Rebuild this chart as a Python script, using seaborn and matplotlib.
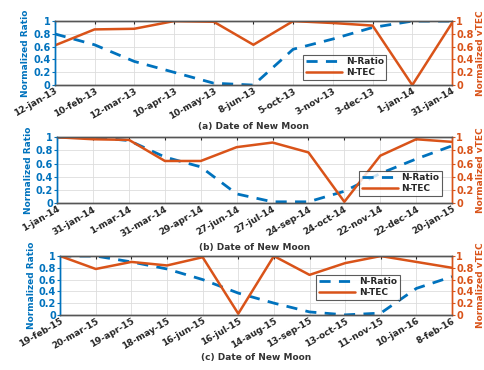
import matplotlib
matplotlib.use("Agg")
import matplotlib.pyplot as plt
import seaborn as sns
import pandas as pd
from matplotlib.lines import Line2D
from matplotlib.ticker import FuncFormatter

sns.set_style("white")
plt.rcParams['font.family'] = ['DejaVu Sans']

dates_a = ["12-jan-13", "10-feb-13", "12-mar-13", "10-apr-13", "10-may-13", "8-jun-13",
           "5-oct-13", "3-nov-13", "3-dec-13", "1-jan-14", "31-jan-14"]
ratio_a = [0.80, 0.63, 0.37, 0.20, 0.03, 0.0, 0.56, 0.72, 0.90, 1.0, 1.0]
tec_a = [0.62, 0.87, 0.88, 1.0, 0.99, 0.63, 1.0, 0.97, 0.93, 0.0, 0.97]

dates_b = ["1-jan-14", "31-jan-14", "1-mar-14", "31-mar-14", "29-apr-14", "27-jun-14",
           "27-jul-14", "24-sep-14", "24-oct-14", "22-nov-14", "22-dec-14", "20-jan-15"]
ratio_b = [1.0, 1.0, 0.95, 0.70, 0.55, 0.14, 0.02, 0.02, 0.18, 0.45, 0.67, 0.87]
tec_b = [1.0, 0.97, 0.96, 0.64, 0.64, 0.85, 0.92, 0.77, 0.02, 0.72, 0.97, 0.93]

dates_c = ["19-feb-15", "20-mar-15", "19-apr-15", "18-may-15", "16-jun-15", "16-jul-15",
           "14-aug-15", "13-sep-15", "13-oct-15", "11-nov-15", "10-jan-16", "8-feb-16"]
ratio_c = [1.0, 1.0, 0.90, 0.78, 0.60, 0.37, 0.20, 0.05, 0.0, 0.03, 0.45, 0.65]
tec_c = [1.0, 0.78, 0.90, 0.84, 0.98, 0.02, 1.0, 0.68, 0.88, 1.0, 0.90, 0.80]

panels = [
    ("(a) Date of New Moon", dates_a, ratio_a, tec_a),
    ("(b) Date of New Moon", dates_b, ratio_b, tec_b),
    ("(c) Date of New Moon", dates_c, ratio_c, tec_c),
]

BLUE = "#0072BD"
ORANGE = "#D95319"
DARK = "#262626"

fig = plt.figure(figsize=(4.85, 3.7), dpi=100)
rects = [
    [0.113, 0.770, 0.819, 0.173],
    [0.118, 0.451, 0.814, 0.178],
    [0.124, 0.149, 0.808, 0.159],
]
legend_pos = [(0.73, 0.28), (0.87, 0.30), (0.76, 0.47)]
label_y = [-0.64, -0.68, -0.73]

fmt = FuncFormatter(lambda v, p: f"{v:g}")

for i, (xlabel, dates, ratio, tec) in enumerate(panels):
    ax = fig.add_axes(rects[i])
    df = pd.DataFrame({"idx": range(len(dates)), "ratio": ratio, "tec": tec})
    sns.lineplot(data=df, x="idx", y="ratio", ax=ax, color=BLUE, lw=2.0,
                 linestyle=(0, (4, 3)))
    ax2 = ax.twinx()
    sns.lineplot(data=df, x="idx", y="tec", ax=ax2, color=ORANGE, lw=1.8)

    for a in (ax, ax2):
        a.set_ylim(0, 1)
        a.set_xlim(0, len(dates) - 1)
        a.set_yticks([0, 0.2, 0.4, 0.6, 0.8, 1.0])
        a.yaxis.set_major_formatter(fmt)
    ax.set_xticks(range(len(dates)))
    ax.set_xticklabels(dates, rotation=30, ha="right", rotation_mode="anchor",
                       fontsize=6.5, fontweight="bold", color=DARK)
    ax.grid(True, color="#dddddd", lw=0.6)
    ax.set_xlabel("")
    ax.text(0.5, label_y[i], xlabel, transform=ax.transAxes, ha="center", va="center",
            fontsize=6.5, fontweight="bold", color="#333333")

    ax.set_ylabel("Normalized Ratio", color=BLUE, fontsize=6.5, fontweight="bold", labelpad=2)
    ax2.set_ylabel("Normalized vTEC", color=ORANGE, fontsize=6.5, fontweight="bold", labelpad=2)
    ax.tick_params(axis="y", colors=BLUE, labelsize=7, length=2, pad=1)
    ax.tick_params(axis="x", colors=DARK, length=2, pad=1, direction="in", top=True)
    ax2.tick_params(axis="y", colors=ORANGE, labelsize=7, length=2, pad=1)
    for lab in ax.get_yticklabels() + ax2.get_yticklabels():
        lab.set_fontweight("bold")
    for a in (ax, ax2):
        a.spines["left"].set_color(BLUE)
        a.spines["right"].set_color(ORANGE)
        a.spines["top"].set_color("#555555")
        a.spines["bottom"].set_color("#555555")
        for s in a.spines.values():
            s.set_linewidth(1.0)

    handles = [Line2D([], [], color=BLUE, lw=2.0, linestyle=(0, (4, 3))),
               Line2D([], [], color=ORANGE, lw=1.8)]
    leg = ax2.legend(handles, ["N-Ratio", "N-TEC"], loc="center",
                     bbox_to_anchor=legend_pos[i],
                     fontsize=6.5, frameon=True, fancybox=False, edgecolor="#333333",
                     handlelength=4.0, borderpad=0.3, labelspacing=0.2, handletextpad=0.4)
    leg.get_frame().set_linewidth(0.8)
    for t in leg.get_texts():
        t.set_fontweight("bold")
        t.set_color(DARK)

fig.savefig("out.png", dpi=100)
